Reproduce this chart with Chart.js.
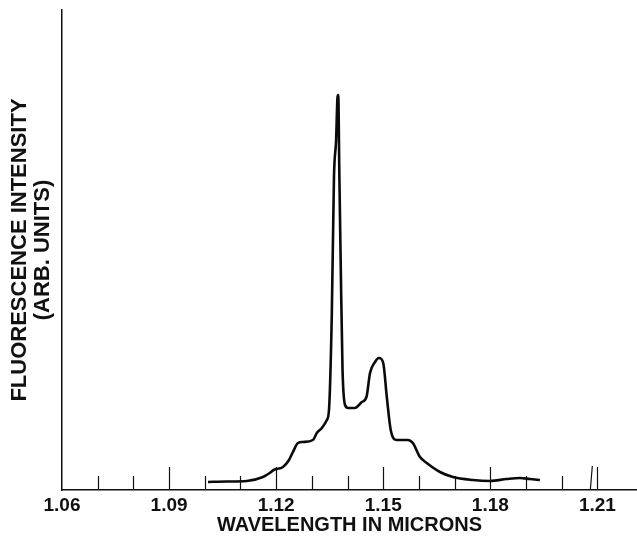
<!DOCTYPE html>
<html>
<head>
<meta charset="utf-8">
<script src="https://cdn.jsdelivr.net/npm/chart.js@4/dist/chart.umd.min.js"></script>
<style>
  html, body { margin: 0; padding: 0; background: #fff; }
  #wrap { width: 637px; height: 540px; }
</style>
</head>
<body>
<div id="wrap"><canvas id="fluorChart"></canvas></div>
<script>
// wavelength (microns) and intensity (arb. units)
var wavelengths = [
  1.1009, 1.1060, 1.1118, 1.1163, 1.1182, 1.1193, 1.1219, 1.1236, 1.1247, 1.1261,
  1.1275, 1.1303, 1.1314, 1.1328, 1.1342, 1.1348, 1.1356, 1.1362, 1.1368, 1.1372,
  1.1374, 1.1377, 1.1381, 1.1386, 1.1393, 1.1402, 1.1420, 1.1440, 1.1453, 1.1463,
  1.1477, 1.1488, 1.1500, 1.1510, 1.1521, 1.1538, 1.1569, 1.1583, 1.1603, 1.1622,
  1.1659, 1.1695, 1.1751, 1.1799, 1.1846, 1.1883, 1.1911, 1.1939
];
var intensities = [
  8, 8.5, 9, 13, 17, 20, 23, 30, 38, 47,
  48, 50, 57, 62, 70, 80, 177, 313, 350, 393,
  395, 317, 223, 120, 85, 82, 82, 88, 93, 117,
  128, 132, 127, 93, 60, 50, 50, 47, 33, 27,
  18, 13, 10, 9, 11, 12, 11, 10
];

// axis ticks
var tickValues = [1.06, 1.07, 1.08, 1.09, 1.10, 1.11, 1.12, 1.13, 1.14, 1.15, 1.16, 1.17, 1.18, 1.19, 1.20, 1.21];
var tickLabels = ['1.06', '1.09', '1.12', '1.15', '1.18', '1.21'];
var extraMarks = [1.2083];

var points = [];
for (var i = 0; i < wavelengths.length; i++) {
  points.push({ x: wavelengths[i], y: intensities[i] });
}

// draws the short tick marks standing up from the x axis
var innerTicks = {
  id: 'innerTicks',
  afterDraw: function (chart) {
    var ctx = chart.ctx;
    var xs = chart.scales.x;
    var base = chart.chartArea.bottom;
    ctx.save();
    ctx.strokeStyle = '#111';
    ctx.lineWidth = 1.2;
    tickValues.forEach(function (v) {
      if (v === tickValues[0]) return;
      var px = Math.round(xs.getPixelForValue(v)) + 0.5;
      var labelled = tickLabels.indexOf(v.toFixed(2)) >= 0;
      var len = labelled ? 23 : 14;
      ctx.beginPath();
      ctx.moveTo(px, base);
      ctx.lineTo(px, base - len);
      ctx.stroke();
    });
    extraMarks.forEach(function (v) {
      var px = xs.getPixelForValue(v);
      ctx.beginPath();
      ctx.moveTo(px - 1, base);
      ctx.lineTo(px + 1, base - 24);
      ctx.stroke();
    });
    ctx.restore();
  }
};

new Chart(document.getElementById('fluorChart'), {
  type: 'line',
  data: {
    datasets: [{
      data: points,
      borderColor: '#0a0a0a',
      borderWidth: 2.6,
      pointRadius: 0,
      fill: false,
      cubicInterpolationMode: 'monotone'
    }]
  },
  options: {
    responsive: true,
    maintainAspectRatio: false,
    animation: false,
    layout: { padding: { top: 10, left: 0, right: 0, bottom: 0 } },
    plugins: { legend: { display: false }, tooltip: { enabled: false } },
    scales: {
      x: {
        type: 'linear',
        min: 1.06,
        max: 1.2211,
        afterBuildTicks: function (scale) {
          scale.ticks = tickValues.map(function (v) { return { value: v }; });
        },
        afterFit: function (scale) { scale.height = 50; },
        grid: { display: true, drawOnChartArea: false, drawTicks: false },
        border: { display: true, color: '#111', width: 1.5 },
        ticks: {
          autoSkip: false,
          maxRotation: 0,
          padding: 4,
          color: '#111',
          font: { family: 'Liberation Sans', size: 19, weight: 'bold' },
          callback: function (value) {
            var s = Number(value).toFixed(2);
            return tickLabels.indexOf(s) >= 0 ? s : '';
          }
        },
        title: {
          display: true,
          text: 'WAVELENGTH IN MICRONS',
          color: '#111',
          font: { family: 'Liberation Sans', size: 20, weight: 'bold' },
          padding: { top: 0, bottom: 3 }
        }
      },
      y: {
        min: 0,
        max: 480,
        afterFit: function (scale) { scale.width = 62; },
        grid: { display: true, drawOnChartArea: false, drawTicks: false },
        border: { display: true, color: '#111', width: 1.5 },
        ticks: { display: false },
        title: {
          display: true,
          text: ['FLUORESCENCE INTENSITY', '(ARB. UNITS)'],
          color: '#111',
          font: { family: 'Liberation Sans', size: 22, weight: 'bold', lineHeight: 1.05 },
          padding: { top: 8, bottom: 0 }
        }
      }
    }
  },
  plugins: [innerTicks]
});
</script>
</body>
</html>
